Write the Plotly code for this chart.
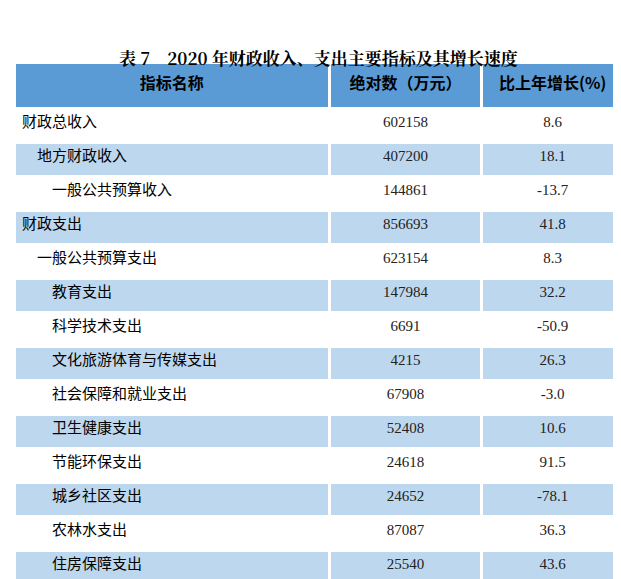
import plotly.graph_objects as go

names = ["财政总收入", "地方财政收入", "一般公共预算收入", "财政支出", "一般公共预算支出",
         "教育支出", "科学技术支出", "文化旅游体育与传媒支出", "社会保障和就业支出",
         "卫生健康支出", "节能环保支出", "城乡社区支出", "农林水支出", "住房保障支出"]
levels = [0, 1, 2, 0, 1, 2, 2, 2, 2, 2, 2, 2, 2, 2]
values = ["602158", "407200", "144861", "856693", "623154", "147984", "6691", "4215",
          "67908", "52408", "24618", "24652", "87087", "25540"]
growth = ["8.6", "18.1", "-13.7", "41.8", "8.3", "32.2", "-50.9", "26.3", "-3.0",
          "10.6", "91.5", "-78.1", "36.3", "43.6"]
headers = ["<b>指标名称</b>", "<b>绝对数（万元）</b>", "<b>比上年增长(%)</b>"]

W, H = 621, 579
names_txt = ["\u3000" * l + n for l, n in zip(levels, names)]
fills = ["#FFFFFF" if i % 2 == 0 else "#BDD7EE" for i in range(len(names))]

fig = go.Figure(go.Table(
    columnwidth=[314, 151, 142],
    header=dict(values=headers, fill_color="#5B9BD5", line=dict(color="white", width=3),
                align="center", height=46,
                font=dict(family="Noto Sans CJK SC", size=16, color="black")),
    cells=dict(values=[names_txt, values, growth],
               fill_color=[fills, fills, fills], line=dict(color="white", width=3),
               align=["left", "center", "center"], height=34,
               font=dict(family=["Noto Sans CJK SC", "Liberation Serif", "Liberation Serif"],
                         size=15, color=["black", "#222", "#222"])),
    domain=dict(x=[6 / W, 616 / W], y=[0, (H - 54) / H]),
))
fig.add_annotation(text="<b>表 7　2020 年财政收入、支出主要指标及其增长速度</b>",
                   x=0.5, y=1 - 35 / H, xref="paper", yref="paper", showarrow=False,
                   font=dict(family="Noto Serif CJK SC, Noto Sans CJK SC", size=17, color="black"))
fig.update_layout(width=W, height=H, margin=dict(l=0, r=0, t=0, b=0),
                  paper_bgcolor="white")
fig.write_html("out.html")
